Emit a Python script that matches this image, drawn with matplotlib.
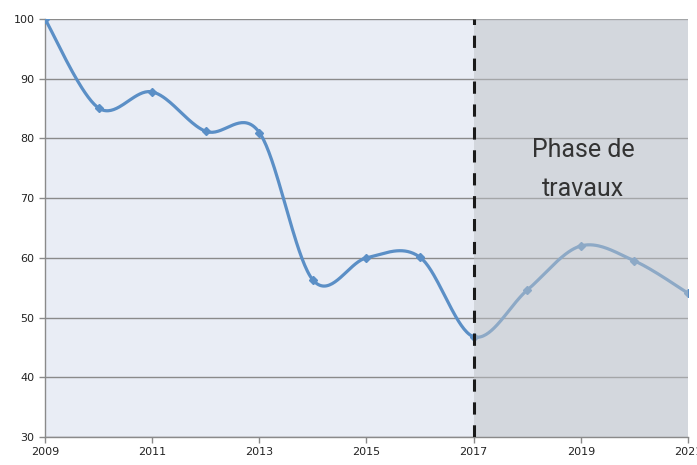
import matplotlib
matplotlib.use("Agg")
import matplotlib.pyplot as plt
import numpy as np

# Data
years = [2009, 2010, 2011, 2012, 2013, 2014, 2015, 2016, 2017, 2018, 2019, 2020, 2021]
values = [100, 85.1, 87.8, 81.2, 81.0, 56.3, 60.0, 60.1, 46.8, 54.6, 62.0, 59.5, 54.1]
xtick_years = [2009, 2011, 2013, 2015, 2017, 2019, 2021]
yticks = [30, 40, 50, 60, 70, 80, 90, 100]
works_start = 2017
works_label = "Phase de\ntravaux"

LINE_COLOR = "#5b8fc6"
BG_COLOR = "#e9edf5"
SHADE_COLOR = "#bfc3c7"
GRID_COLOR = "#8a8a8a"

fig = plt.figure(figsize=(6.97, 4.65), dpi=100)
ax = fig.add_axes([0.0646, 0.0602, 0.9224, 0.8988])
ax.set_xlim(2009, 2021)
ax.set_ylim(30, 100)
ax.set_facecolor(BG_COLOR)


# Excel-like smoothed line: Bezier segments computed in pixel space
def smooth(xs, ys, sx, sy, n=40):
    px = np.array(xs, float) * sx
    py = np.array(ys, float) * sy
    out_x, out_y = [], []
    m = len(px)
    for i in range(m - 1):
        p0 = np.array([px[max(i - 1, 0)], py[max(i - 1, 0)]])
        p1 = np.array([px[i], py[i]])
        p2 = np.array([px[i + 1], py[i + 1]])
        p3 = np.array([px[min(i + 2, m - 1)], py[min(i + 2, m - 1)]])
        c1 = p1 + (p2 - p0) / 6.0
        c2 = p2 - (p3 - p1) / 6.0
        t = np.linspace(0, 1, n)[:, None]
        pts = ((1 - t) ** 3) * p1 + 3 * ((1 - t) ** 2) * t * c1 + 3 * (1 - t) * t ** 2 * c2 + t ** 3 * p2
        out_x.extend(pts[:, 0] / sx)
        out_y.extend(pts[:, 1] / sy)
    return np.array(out_x), np.array(out_y)


sx, sy = 643 / 12.0, 418 / 70.0
cx, cy = smooth(years, values, sx, sy)
ax.plot(cx, cy, color=LINE_COLOR, lw=2.3, zorder=3, solid_capstyle="round")
ax.plot(years, values, linestyle="none", marker="D", ms=4.5, color=LINE_COLOR, zorder=4)

# grey overlay for the works phase
ax.axvspan(works_start, 2021, color=SHADE_COLOR, alpha=0.5, zorder=5, lw=0)
ax.axvline(works_start, color="#1a1a1a", lw=2.2, ls=(0, (4, 3.5)), zorder=6)

ax.text(2019.05, 74.8, works_label, ha="center", va="center", fontsize=18,
        family="Roboto", color="#333333", linespacing=1.75, zorder=7)

ax.set_yticks(yticks)
ax.set_xticks(xtick_years)
ax.yaxis.grid(True, color=GRID_COLOR, lw=1.0, zorder=1)
ax.set_axisbelow(True)
ax.tick_params(axis="both", labelsize=8, colors=GRID_COLOR, labelcolor="#222222", length=4, width=1)
ax.tick_params(axis="x", pad=3)

for s in ["top", "right"]:
    ax.spines[s].set_visible(False)
for s in ["left", "bottom"]:
    ax.spines[s].set_color(GRID_COLOR)
    ax.spines[s].set_linewidth(1.0)

fig.savefig("out.png", dpi=100)
